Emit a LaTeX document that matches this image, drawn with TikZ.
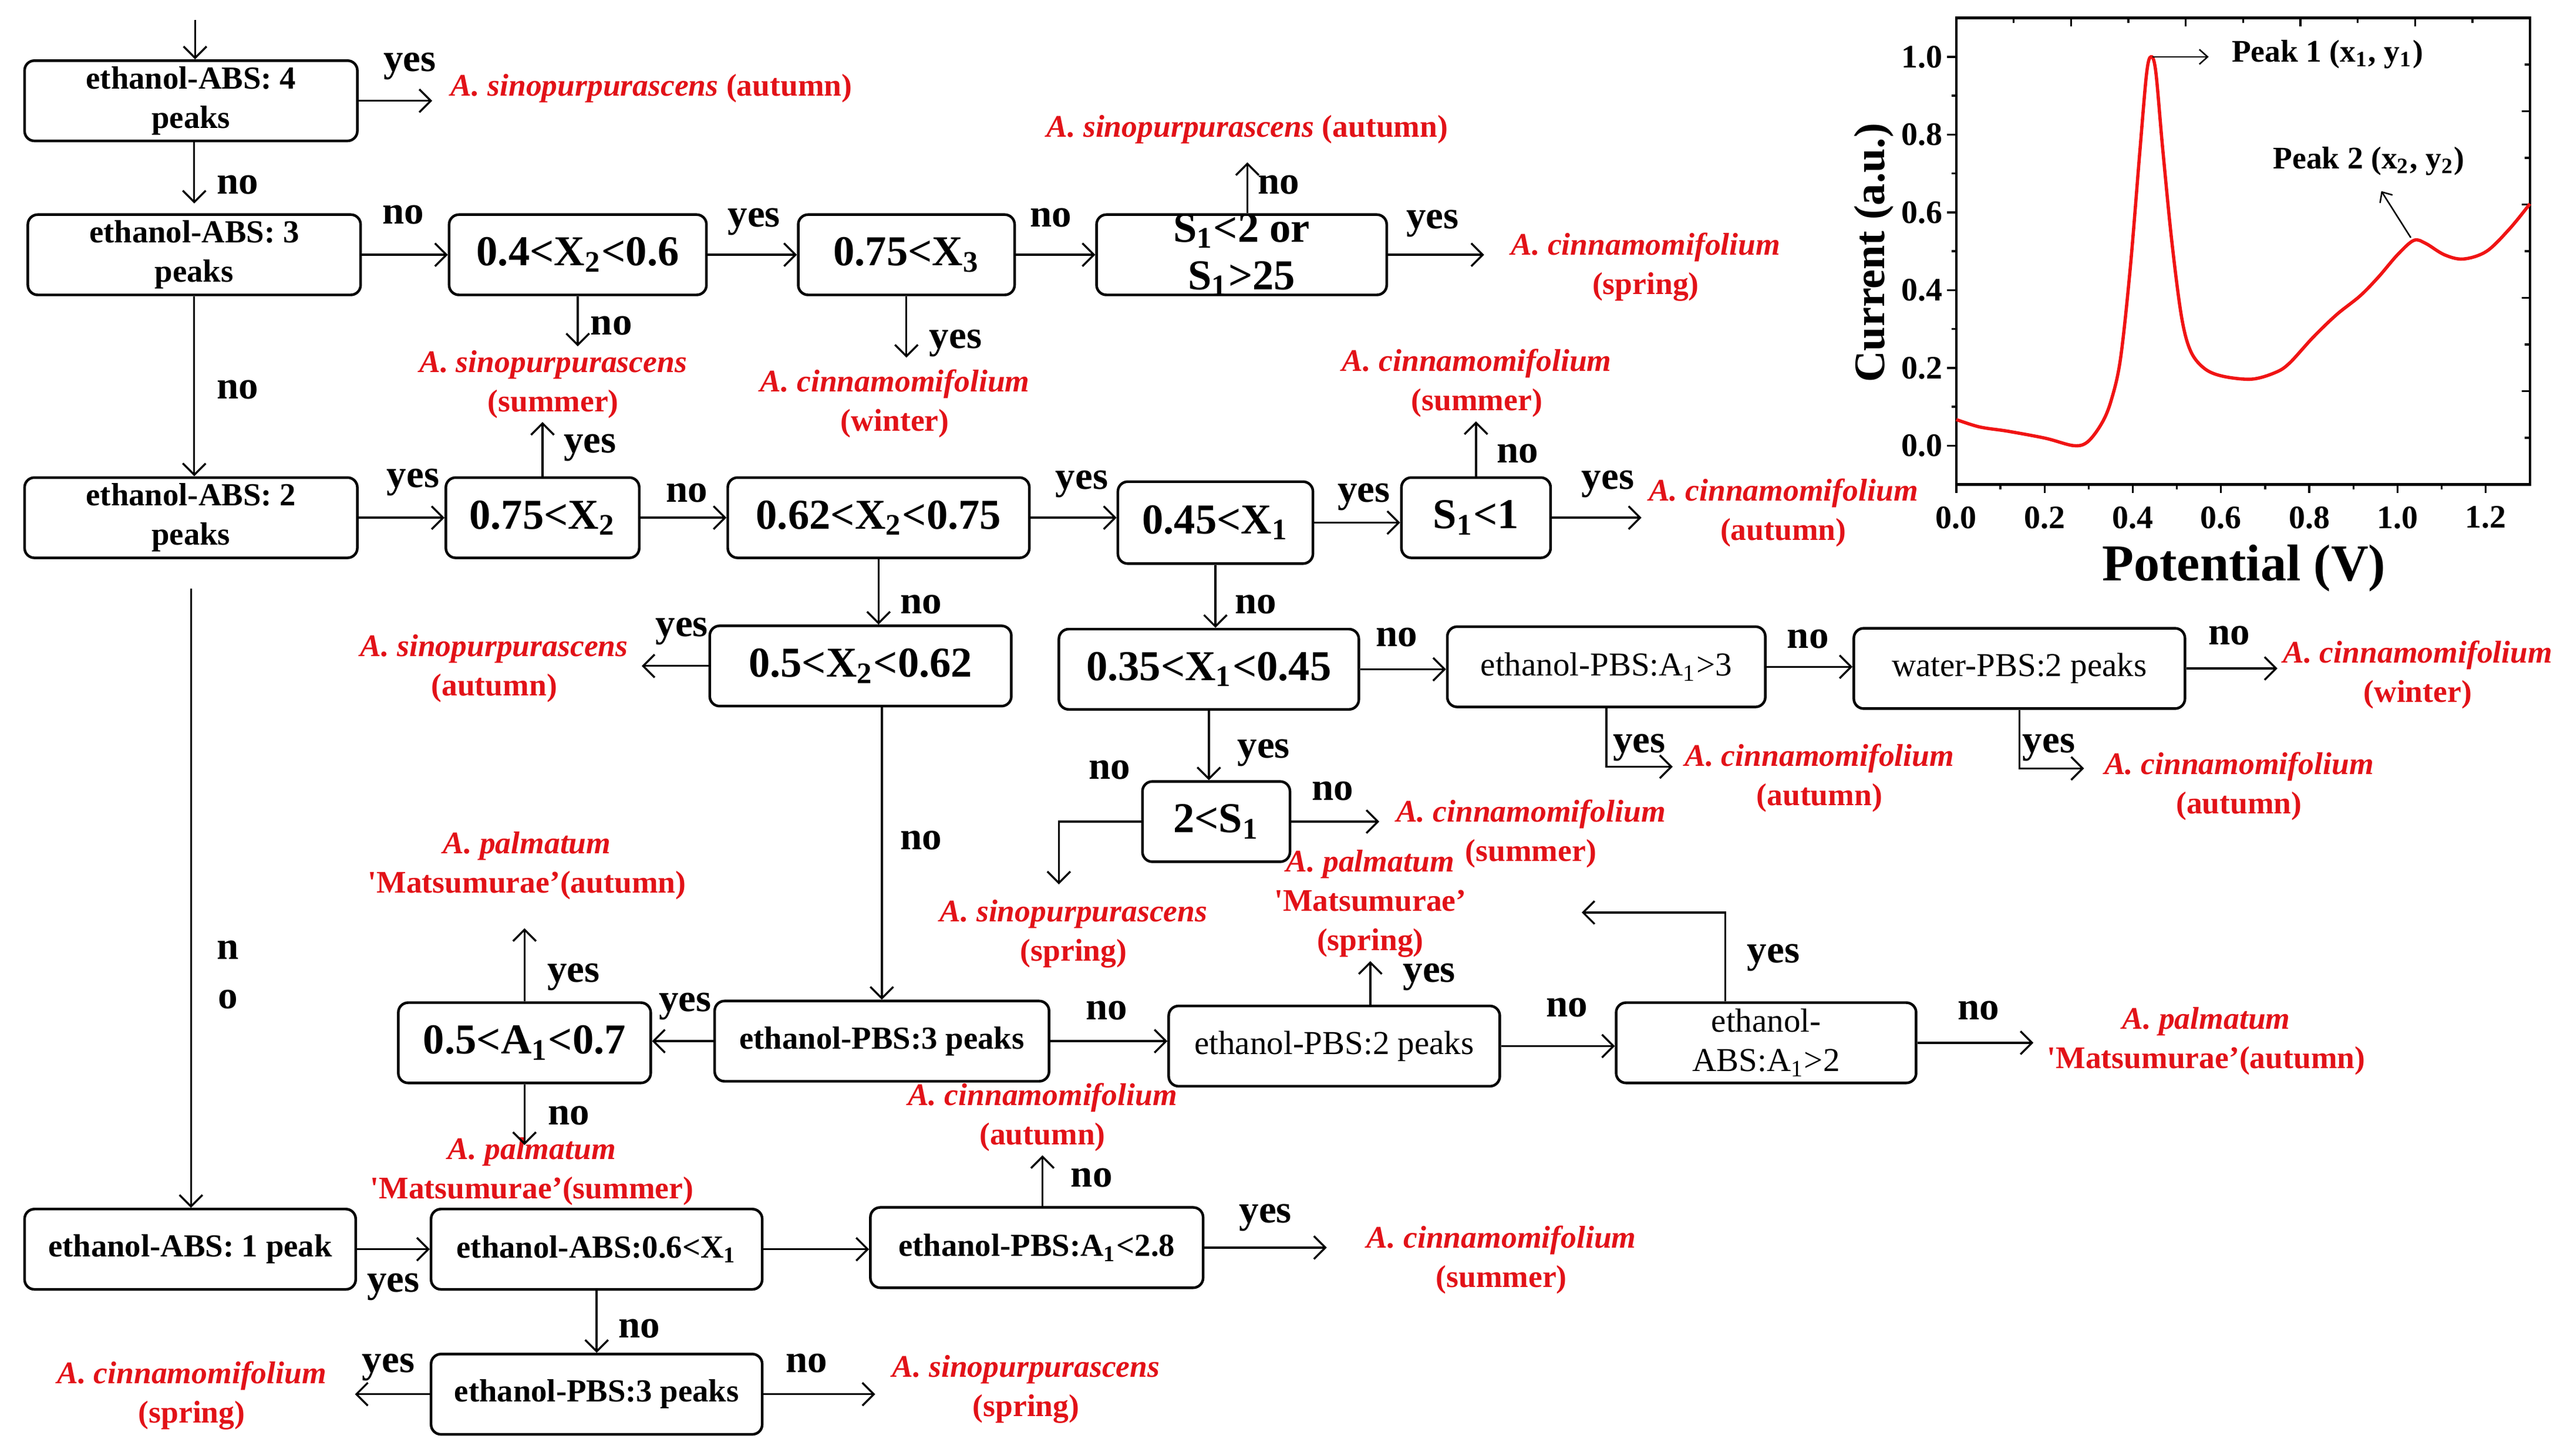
\documentclass[tikz,border=0pt]{standalone}
\usepackage{fontspec}
\setmainfont{Liberation Serif}
\usetikzlibrary{arrows.meta}
\definecolor{resred}{RGB}{226,18,24}
\definecolor{curvered}{RGB}{240,20,20}
\newcommand{\stepfont}{\fontsize{9.8}{12}\selectfont\bfseries}
\newcommand{\pbsfont}{\fontsize{10.2}{12}\selectfont}
\newcommand{\condfont}{\fontsize{13}{14.5}\selectfont\bfseries}
\newcommand{\resfont}{\fontsize{9.6}{12}\selectfont\bfseries}
\newcommand{\labfont}{\fontsize{12}{14}\selectfont\bfseries}
\newcommand{\ticklabfont}{\fontsize{10}{12}\selectfont\bfseries}
\newcommand{\spec}[1]{\textit{A. #1}}
\tikzset{
  stepbox/.style={draw, rounded corners=3pt, line width=0.8pt, minimum height=24.5pt, inner sep=1pt, align=center, font=\stepfont},
  condbox/.style={stepbox, font=\condfont},
  result/.style={text=resred, align=center, font=\resfont, inner sep=1pt},
  lab/.style={font=\labfont, inner sep=0pt, text height=5.5pt, text depth=0pt},
  flow/.style={-{Straight Barb[length=3.5pt,width=7pt]}, line width=0.6pt},
}
\begin{document}
\begin{tikzpicture}[x=0.5pt, y=-0.5pt]
\useasboundingbox (0,0) rectangle (1560,888.7);

% decision boxes
\node[stepbox, minimum width=101.5pt] (abs4) at (116.5,61.5) {ethanol-ABS: 4\\peaks};
\node[stepbox, minimum width=101.5pt] (abs3) at (118.5,155.5) {ethanol-ABS: 3\\peaks};
\node[condbox, minimum width=78.5pt] (xa) at (352.5,155.5) {0.4<X\textsubscript{2}<0.6};
\node[condbox, minimum width=66pt] (xb) at (553,155.5) {0.75<X\textsubscript{3}};
\node[condbox, minimum width=88.5pt, inner ysep=-1.5pt] (sa) at (757.5,155.5) {S\textsubscript{1}<2 or\\S\textsubscript{1}>25};
\node[stepbox, minimum width=101.5pt] (abs2) at (116.5,316) {ethanol-ABS: 2\\peaks};
\node[condbox, minimum width=59pt] (xc) at (331,316) {0.75<X\textsubscript{2}};
\node[condbox, minimum width=92pt] (xd) at (536,316) {0.62<X\textsubscript{2}<0.75};
\node[condbox, minimum width=59.5pt, minimum height=25pt] (xe) at (741.5,319) {0.45<X\textsubscript{1}};
\node[condbox, minimum width=45.5pt] (sb) at (900.5,316) {S\textsubscript{1}<1};
\node[condbox, minimum width=92pt] (xf) at (525,406.5) {0.5<X\textsubscript{2}<0.62};
\node[condbox, minimum width=91.5pt] (xg) at (737.5,408.5) {0.35<X\textsubscript{1}<0.45};
\node[stepbox, font=\pbsfont, minimum width=97pt] (pa) at (980,407) {ethanol-PBS:A\textsubscript{1}>3};
\node[stepbox, font=\pbsfont, minimum width=101pt] (wa) at (1232,408) {water-PBS:2 peaks};
\node[condbox, minimum width=45pt] (sc) at (742,501.5) {2<S\textsubscript{1}};
\node[condbox, minimum width=77pt] (aa) at (320,636.5) {0.5<A\textsubscript{1}<0.7};
\node[stepbox, minimum width=102pt] (pb) at (538,635.5) {ethanol-PBS:3 peaks};
\node[stepbox, font=\pbsfont, minimum width=101pt] (pc) at (814,638.5) {ethanol-PBS:2 peaks};
\node[stepbox, font=\pbsfont, minimum width=91.5pt] (ab) at (1077.5,636.5) {ethanol-\\ABS:A\textsubscript{1}>2};
\node[stepbox, minimum width=101pt] (abs1) at (116,762.5) {ethanol-ABS: 1 peak};
\node[stepbox, minimum width=101pt] (xh) at (364,762.5) {ethanol-ABS:0.6<X\textsubscript{1}};
\node[stepbox, minimum width=101.5pt] (pd) at (632.5,761.5) {ethanol-PBS:A\textsubscript{1}<2.8};
\node[stepbox, minimum width=101pt] (pe) at (364,851) {ethanol-PBS:3 peaks};

% species
\node[result] (r1) at (397.5,54) {\spec{sinopurpurascens} (autumn)};
\node[result] (r2) at (761,79) {\spec{sinopurpurascens} (autumn)};
\node[result] (r3) at (1004,163) {\spec{cinnamomifolium}\\(spring)};
\node[result] (r4) at (337.5,234.5) {\spec{sinopurpurascens}\\(summer)};
\node[result] (r5) at (546,246.5) {\spec{cinnamomifolium}\\(winter)};
\node[result] (r6) at (901,234) {\spec{cinnamomifolium}\\(summer)};
\node[result] (r7) at (1088,313) {\spec{cinnamomifolium}\\(autumn)};
\node[result] (r8) at (301.5,408) {\spec{sinopurpurascens}\\(autumn)};
\node[result] (r9) at (1475,412) {\spec{cinnamomifolium}\\(winter)};
\node[result] (r10) at (1110,475) {\spec{cinnamomifolium}\\(autumn)};
\node[result] (r11) at (1366,480) {\spec{cinnamomifolium}\\(autumn)};
\node[result] (r12) at (934,509) {\spec{cinnamomifolium}\\(summer)};
\node[result] (r13) at (655,570) {\spec{sinopurpurascens}\\(spring)};
\node[result] (r14) at (836,551.5) {\spec{palmatum}\\\textquotesingle Matsumurae'\\(spring)};
\node[result] (r15) at (321.5,528.5) {\spec{palmatum}\\\textquotesingle Matsumurae'(autumn)};
\node[result] (r16) at (324.5,715) {\spec{palmatum}\\\textquotesingle Matsumurae'(summer)};
\node[result] (r17) at (1346,635.5) {\spec{palmatum}\\\textquotesingle Matsumurae'(autumn)};
\node[result] (r18) at (636,682) {\spec{cinnamomifolium}\\(autumn)};
\node[result] (r19) at (916,769) {\spec{cinnamomifolium}\\(summer)};
\node[result] (r20) at (117,852) {\spec{cinnamomifolium}\\(spring)};
\node[result] (r21) at (626,848) {\spec{sinopurpurascens}\\(spring)};

% connectors
\coordinate (top) at (119,12);
\coordinate (back) at (965,557);
\draw[flow] (top) -- (top |- abs4.north);
\draw[flow, shorten >=4.5pt] (abs4.east) -- (abs4.east -| r1.west) node[lab] at (250,38) {yes};
\draw[flow, shorten >=3pt] (abs3.north |- abs4.south) -- (abs3.north) node[lab] at (145,113) {no};
\draw[flow] (abs3.east) -- (xa.west) node[lab] at (246,131) {no};
\draw[flow] (xa.east) -- (xb.west) node[lab] at (460,133) {yes};
\draw[flow] (xb.east) -- (sa.west) node[lab] at (641,133) {no};
\draw[flow, shorten >=7pt] (sa.east) -- (sa.east -| r3.west) node[lab] at (874,134) {yes};
\draw[flow, shorten >=4.5pt] (r2.south |- sa.north) -- (r2.south) node[lab] at (780,113) {no};
\draw[flow] (xa.south) -- (xa.south |- r4.north) node[lab] at (373,199) {no};
\draw[flow, shorten >=2.5pt] (xb.south) -- (xb.south |- r5.north) node[lab] at (583,207) {yes};
\draw[flow] (abs3.south) -- (abs3.south |- abs2.north) node[lab] at (145,238) {no};
\draw[flow] (abs2.east) -- (xc.west) node[lab] at (252,292) {yes};
\draw[flow] (xc.north) -- (xc.north |- r4.south) node[lab] at (360,271) {yes};
\draw[flow] (xc.east) -- (xd.west) node[lab] at (419,301) {no};
\draw[flow] (xd.east) -- (xd.east -| xe.west) node[lab] at (660,293) {yes};
\draw[flow] (xe.east) -- (xe.east -| sb.west) node[lab] at (832,301) {yes};
\draw[flow, shorten >=1pt] (sb.east) -- (sb.east -| r7.west) node[lab] at (981,293) {yes};
\draw[flow] (sb.north) -- (sb.north |- r6.south) node[lab] at (926,277) {no};
\draw[flow] (xd.south) -- (xd.south |- xf.north) node[lab] at (562,369) {no};
\draw[flow, shorten >=3pt] (xf.west) -- (xf.west -| r8.east) node[lab] at (416,383) {yes};
\draw[flow] (xe.south) -- (xe.south |- xg.north) node[lab] at (766,369) {no};
\draw[flow] (xg.east) -- (xg.east -| pa.west) node[lab] at (852,389) {no};
\draw[flow] (pa.east) -- (pa.east -| wa.west) node[lab] at (1103,390) {no};
\draw[flow, shorten >=0.5pt] (wa.east) -- (wa.east -| r9.west) node[lab] at (1360,388) {no};
\draw[flow, shorten >=2.5pt] (pa.south) |- ([yshift=3.5pt]r10.west) node[lab] at (1000,454) {yes};
\draw[flow, shorten >=5pt] (wa.south) |- ([yshift=5.5pt]r11.west) node[lab] at (1250,454) {yes};
\draw[flow] (xg.south) -- (xg.south |- sc.north) node[lab] at (771,457) {yes};
\draw[flow, shorten >=4pt] (sc.east) -- (sc.east -| r12.west) node[lab] at (813,483) {no};
\draw[flow, shorten >=3.5pt] (sc.west) -| ([xshift=-4.5pt]r13.north) node[lab] at (677,470) {no};
\draw[flow, shorten <=9pt] (abs2.south) -- (abs2.south |- abs1.north) node[font=\labfont, align=center] at (139,595) {n\\[1pt]o};
\draw[flow] (pb.north |- xf.south) -- (pb.north) node[lab] at (562,513) {no};
\draw[flow] (pb.west) -- (pb.west -| aa.east) node[lab] at (418,612) {yes};
\draw[flow, shorten >=7.5pt] (aa.north) -- (aa.north |- r15.south) node[lab] at (350,594) {yes};
\draw[flow, shorten >=-3.5pt] (aa.south) -- (aa.south |- r16.north) node[lab] at (347,681) {no};
\draw[flow] (pb.east) -- (pb.east -| pc.west) node[lab] at (675,617) {no};
\draw[flow] (r14.south |- pc.north) -- (r14.south) node[lab] at (872,594) {yes};
\draw[flow] (pc.east) -- (pc.east -| ab.west) node[lab] at (956,615) {no};
\draw[flow, shorten >=3pt] (ab.east) -- (ab.east -| r17.west) node[lab] at (1207,617) {no};
\draw[flow] ([xshift=-12.5pt]ab.north) |- (back) node[lab] at (1082,582) {yes};
\draw[flow] (abs1.east) -- (xh.west) node[lab] at (240,783) {yes};
\draw[flow] (xh.east) -- (xh.east -| pd.west);
\draw[flow] (r18.south |- pd.north) -- (r18.south) node[lab] at (666,719) {no};
\draw[flow, shorten >=11pt] (pd.east) -- (pd.east -| r19.west) node[lab] at (772,741) {yes};
\draw[flow] (xh.south) -- (xh.south |- pe.north) node[lab] at (390,811) {no};
\draw[flow, shorten >=7.5pt] (pe.west) -- (pe.west -| r20.east) node[lab] at (237,832) {yes};
\draw[flow, shorten >=4pt] (pe.east) -- (pe.east -| r21.west) node[lab] at (492,832) {no};

% voltammogram
\begin{scope}[shift={(1193.5,272)}, x=134.6pt, y=118.65pt]
  \draw[line width=0.8pt] (0,-0.1) rectangle (1.3,1.1);
  \foreach \t in {0.0,0.2,0.4,0.6,0.8,1.0,1.2}
    \draw[line width=0.6pt] (\t,-0.1) -- ++(0,-2.5pt);
  \foreach \t in {0.1,0.3,0.5,0.7,0.9,1.1}
    \draw[line width=0.6pt] (\t,-0.1) -- ++(0,-1.5pt);
  \foreach \t in {0.0,0.2,0.4,0.6,0.8,1.0}
    \draw[line width=0.6pt] (0,\t) -- ++(-2.8pt,0);
  \foreach \t in {0.1,0.3,0.5,0.7,0.9}
    \draw[line width=0.6pt] (0,\t) -- ++(-1.5pt,0);
  \foreach \t in {0.26,0.52,0.78,1.04}
    \draw[line width=0.6pt] (\t,1.1) -- ++(0,-2.5pt);
  \foreach \t in {0.13,0.39,0.65,0.91,1.17}
    \draw[line width=0.6pt] (\t,1.1) -- ++(0,-1.5pt);
  \foreach \t in {0.14,0.38,0.62,0.86}
    \draw[line width=0.6pt] (1.3,\t) -- ++(-2.5pt,0);
  \foreach \t in {0.02,0.26,0.5,0.74,0.98}
    \draw[line width=0.6pt] (1.3,\t) -- ++(-1.5pt,0);
  \foreach \t in {0.0,0.2,0.4,0.6,0.8,1.0,1.2}
    \node[font=\ticklabfont] at (\t,-0.185) {\t};
  \foreach \t in {0.0,0.2,0.4,0.6,0.8,1.0}
    \node[font=\ticklabfont, anchor=east, inner sep=0pt] at (-0.03,\t) {\t};
  \node[font=\fontsize{13.3}{15}\selectfont\bfseries, rotate=90] at (-0.187,0.496) {Current (a.u.)};
  \node[font=\fontsize{15.8}{18}\selectfont\bfseries] at (0.652,-0.316) {Potential (V)};
  \draw[curvered, line width=1pt] plot[smooth, tension=0.55] coordinates {
    (0,0.067) (0.053,0.048) (0.117,0.037) (0.202,0.019) (0.266,0.0) (0.298,0.01)
    (0.330,0.058) (0.351,0.116) (0.372,0.222) (0.394,0.453) (0.415,0.742)
    (0.431,0.954) (0.441,1.0) (0.452,0.963) (0.468,0.761) (0.489,0.520)
    (0.511,0.328) (0.532,0.241) (0.564,0.197) (0.606,0.178) (0.67,0.171)
    (0.723,0.188) (0.755,0.212) (0.809,0.279) (0.862,0.337) (0.915,0.385)
    (0.957,0.434) (1.0,0.491) (1.037,0.528) (1.064,0.52) (1.106,0.491)
    (1.149,0.48) (1.202,0.5) (1.255,0.559) (1.3,0.622)};
  \coordinate (pk1) at (0.445,1.0);
  \coordinate (pk2) at (1.03,0.535);
  \node[font=\resfont, anchor=west] (peaklab1) at (0.598,1.007) {Peak 1 (x\textsubscript{1}, y\textsubscript{1})};
  \node[font=\resfont] (peaklab2) at (0.935,0.732) {Peak 2 (x\textsubscript{2}, y\textsubscript{2})};
  \draw[-{Straight Barb[length=2.5pt,width=4.5pt]}, line width=0.45pt, shorten >=3.5pt] (pk1) -- (pk1 -| peaklab1.west);
  \draw[-{Straight Barb[length=2.5pt,width=4.5pt]}, line width=0.45pt, shorten >=1.5pt] (pk2) -- ([xshift=3pt]peaklab2.south);
\end{scope}
\end{tikzpicture}
\end{document}
